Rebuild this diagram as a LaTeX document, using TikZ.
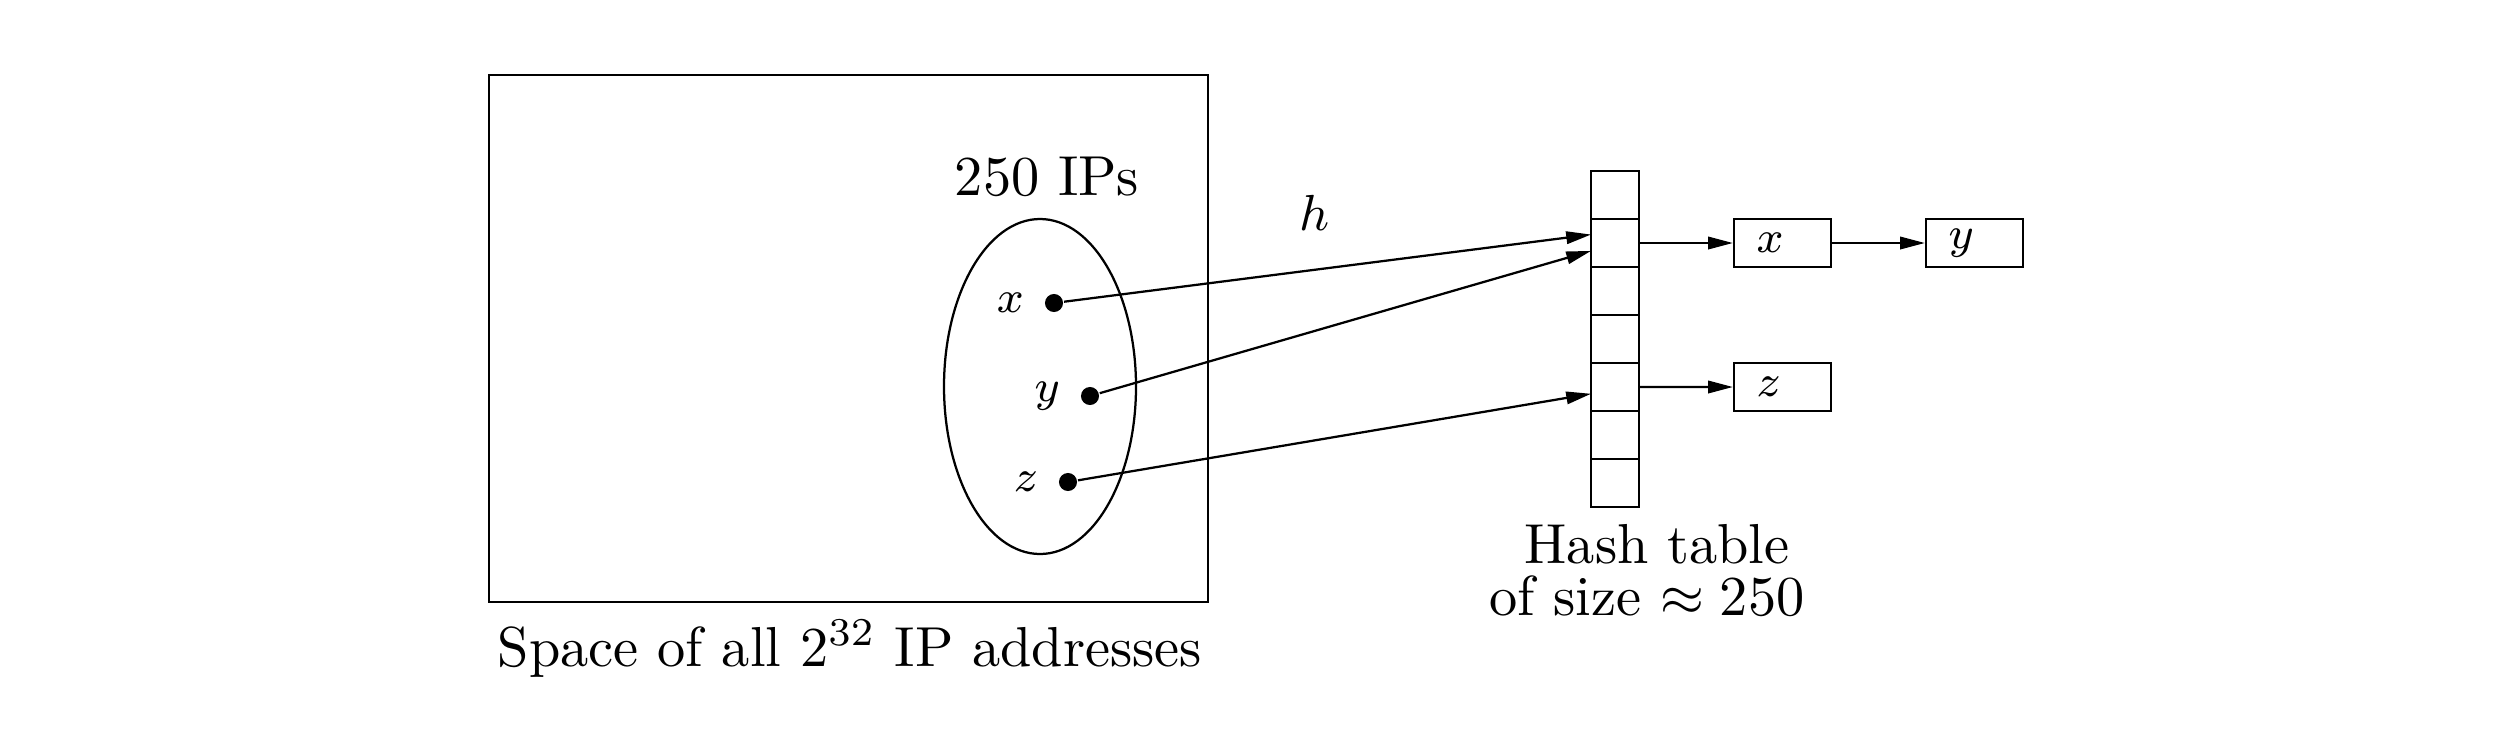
\documentclass[tikz,border=0pt]{standalone}
\usepackage{tikz}
\usetikzlibrary{arrows.meta,
                calc,
                positioning}

\begin{document}
\begin{tikzpicture}[x=0.6235cm,y=0.6235cm,
  cell/.style={draw,minimum width=8.5pt,minimum height=8.5pt,inner sep=0pt,outer sep=0pt},
  lbox/.style={draw,font=\footnotesize,text width=9.2pt,align=left,inner xsep=4pt,inner ysep=0pt,minimum height=8.5pt},
  dot/.style={circle,fill,inner sep=0pt,minimum size=3.2pt},
  arr/.style={-{Triangle[length=4.4pt,width=2.2pt]}}]
\useasboundingbox (0,0) rectangle (25.04,-7.46);
\draw (4.89,-0.75) rectangle (12.08,-6.02);
\draw (10.40,-3.865) ellipse (0.96 and 1.675);

\node[anchor=base] (ips) at (10.47,-1.95) {250 IPs};
\node[anchor=base] (space) at (8.50,-6.66) {Space of all $2^{32}$ IP addresses};
\node[anchor=base,font=\small] (hlab) at (13.15,-2.30) {$h$};

\node[dot,label={[font=\footnotesize]left:$x$}] (dx) at (10.54,-3.03) {};
\node[dot,label={[font=\footnotesize]left:$y$}] (dy) at (10.90,-3.96) {};
\node[dot,label={[font=\footnotesize]left:$z$}] (dz) at (10.68,-4.82) {};

\foreach \i in {1,...,7}
  \node[cell] (c\i) at (16.15,-1.47-0.48*\i) {};

\node[lbox] (lx) at (17.825,-2.43) {$x$};
\node[lbox] (ly) at (19.745,-2.43) {$y$};
\node[lbox] (lz) at (17.825,-3.87) {$z$};

\node[anchor=base] (htab) at (16.57,-5.63) {Hash table};
\node[anchor=base] (hsize) at (16.47,-6.15) {of size $\approx 250$};

\draw[arr] (dx) -- ([yshift=1.5pt]c2.west);
\draw[arr] (dy) -- ([yshift=-1.4pt]c2.west);
\draw[arr] (dz) -- ([yshift=-1.2pt]c5.west);

\draw[arr] (c2.east) -- (lx.west);
\draw[arr] (lx.east) -- (ly.west);
\draw[arr] (c5.east) -- (lz.west);
\end{tikzpicture}
\end{document}
